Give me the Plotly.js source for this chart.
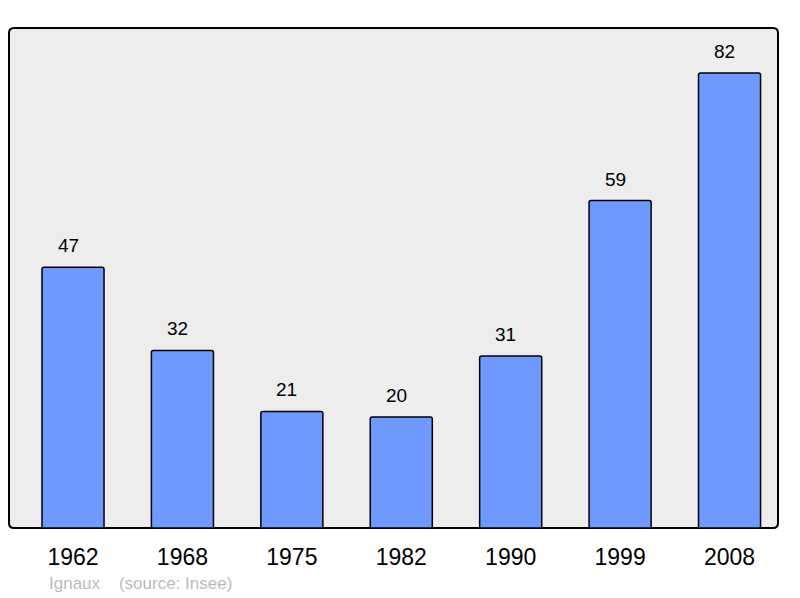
<!DOCTYPE html>
<html>
<head>
<meta charset="utf-8">
<script src="https://cdn.plot.ly/plotly-3.0.1.min.js"></script>
<style>
  html, body { margin: 0; padding: 0; background: #fff; }
  #chart { width: 800px; height: 598px; }
</style>
</head>
<body>
<div id="chart"></div>
<script>
// population by census year
const years = ['1962', '1968', '1975', '1982', '1990', '1999', '2008'];
const population = [47, 32, 21, 20, 31, 59, 82];
const positions = years.map((y, i) => i);

const barTrace = {
  type: 'bar',
  x: positions,
  y: population,
  width: 0.567,
  marker: {
    color: '#7099ff',
    line: { color: '#000', width: 1.5 },
    cornerradius: 2,
  },
  hoverinfo: 'none',
};

// value labels above each bar
const labels = population.map((v, i) => ({
  x: positions[i],
  y: v,
  xref: 'x',
  yref: 'y',
  text: String(v),
  showarrow: false,
  yanchor: 'bottom',
  yshift: 9,
  xshift: -5,
  font: { family: 'Liberation Sans, Arial, sans-serif', size: 19, color: '#000' },
}));

labels.push({
  xref: 'paper',
  yref: 'paper',
  x: 0.05,
  y: -0.11,
  xanchor: 'left',
  yanchor: 'middle',
  text: 'Ignaux&nbsp;&nbsp;&nbsp;&nbsp;(source: Insee)',
  showarrow: false,
  font: { family: 'Liberation Sans, Arial, sans-serif', size: 17, color: '#bbbbbb' },
});

const layout = {
  width: 800,
  height: 598,
  margin: { l: 9, r: 22, t: 28, b: 70 },
  paper_bgcolor: '#ffffff',
  plot_bgcolor: 'rgba(0,0,0,0)',
  showlegend: false,
  xaxis: {
    range: [-0.585, 6.443],
    tickvals: positions,
    ticktext: years,
    ticks: 'outside',
    ticklen: 8,
    tickcolor: 'rgba(0,0,0,0)',
    showgrid: false,
    zeroline: false,
    tickfont: { family: 'Liberation Sans, Arial, sans-serif', size: 23, color: '#000' },
    fixedrange: true,
  },
  yaxis: {
    range: [0, 90.1],
    showgrid: false,
    zeroline: false,
    showticklabels: false,
    fixedrange: true,
  },
  // plot frame with rounded corners, drawn in pixels from the bottom-left corner
  shapes: [{
    type: 'path',
    xref: 'paper',
    yref: 'paper',
    xsizemode: 'pixel',
    ysizemode: 'pixel',
    xanchor: 0,
    yanchor: 0,
    path: 'M 5,0 L 764,0 Q 769,0 769,5 L 769,495 Q 769,500 764,500 L 5,500 Q 0,500 0,495 L 0,5 Q 0,0 5,0 Z',
    fillcolor: '#ededed',
    line: { color: '#000', width: 2 },
    layer: 'below',
  }],
  annotations: labels,
};

Plotly.newPlot('chart', [barTrace], layout, { displayModeBar: false, staticPlot: true });
</script>
</body>
</html>
